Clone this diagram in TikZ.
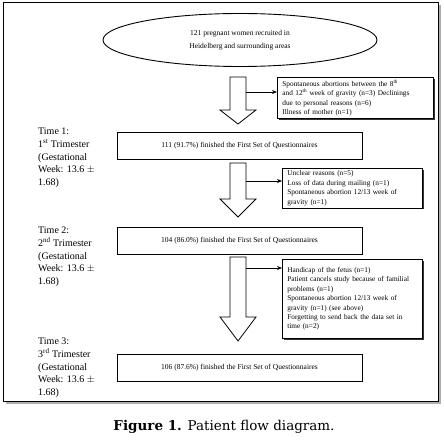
\documentclass[tikz,border=0pt]{standalone}
\usepackage{fontspec}
\setmainfont{Liberation Serif}
\newfontfamily\captionfont{DejaVu Serif}
\usetikzlibrary{positioning, shapes.geometric, arrows.meta, shadows}
\definecolor{flowshadow}{HTML}{7A7A7A}

\begin{document}
\begin{tikzpicture}[x=1pt, y=-1pt,
    mainbox/.style={draw, fill=white, line width=0.8pt, minimum width=245pt, minimum height=27pt,
      font=\fontsize{7.5}{9}\selectfont, drop shadow={shadow xshift=1.2pt, shadow yshift=-1.2pt, fill=black, opacity=0.8}},
    sidebox/.style={draw, fill=white, line width=0.8pt, anchor=north west, align=left, inner xsep=5pt, inner ysep=2.5pt,
      font=\fontsize{7.3}{9.4}\selectfont, drop shadow={shadow xshift=1.2pt, shadow yshift=-1.2pt, fill=black, opacity=0.8}},
    timelabel/.style={anchor=north west, align=left, inner sep=0pt, font=\fontsize{10}{12.6}\selectfont},
    bigarrow/.style={draw, fill=white, line width=0.8pt},
    sidearrow/.style={-{Stealth[length=5pt, width=4pt]}, line width=0.8pt}]
    \useasboundingbox (0,0) rectangle (444,443);
    \draw[line width=1pt, fill=white, drop shadow={shadow xshift=2.5pt, shadow yshift=-2.5pt, fill=flowshadow, opacity=0.6}]
      (3,3) rectangle (438,401);

    \node[draw, ellipse, line width=0.9pt, minimum width=274pt, minimum height=53pt, align=center,
      font=\fontsize{7.5}{12.5}\selectfont] (recruit) at (240,40)
      {121 pregnant women recruited in\\Heidelberg and surrounding areas};

    \node[timelabel] (time1) at (38,128) {Time 1:\\1\textsuperscript{st} Trimester\\(Gestational\\Week: 13.6 $\pm$\\1.68)};
    \node[timelabel] (time2) at (38,227) {Time 2:\\2\textsuperscript{nd} Trimester\\(Gestational\\Week: 13.6 $\pm$\\1.68)};
    \node[timelabel] (time3) at (38,338) {Time 3:\\3\textsuperscript{rd} Trimester\\(Gestational\\Week: 13.6 $\pm$\\1.68)};

    \node[mainbox] (set1) at (239.5,145.5) {111 (91.7\%) finished the First Set of Questionnaires};
    \node[mainbox] (set2) at (239.5,240.5) {104 (86.0\%) finished the First Set of Questionnaires};
    \node[mainbox] (set3) at (239.5,367.5) {106 (87.6\%) finished the First Set of Questionnaires};

    \node[sidebox, text width=146pt, minimum height=40pt] (drop1) at (277,77)
      {Spontaneous abortions between the 8\textsuperscript{th}\\and 12\textsuperscript{th} week of gravity (n=3) Declinings\\due to personal reasons (n=6)\\Illness of mother (n=1)};
    \node[sidebox, text width=130pt, minimum height=39pt] (drop2) at (282,168)
      {Unclear reasons (n=5)\\Loss of data during mailing (n=1)\\Spontaneous abortion 12/13 week of\\gravity (n=1)};
    \node[sidebox, text width=130pt, minimum height=79pt] (drop3) at (282,259)
      {Handicap of the fetus (n=1)\\Patient cancels study because of familial\\problems (n=1)\\Spontaneous abortion 12/13 week of\\gravity (n=1) (see above)\\Forgetting to send back the data set in\\time (n=2)};

    \draw[bigarrow] (230,77) -- (246,77) -- (246,110) -- (256,110) -- (238,124) -- (220,110) -- (230,110) -- cycle;
    \draw[bigarrow] (230,163) -- (246,163) -- (246,199) -- (256,199) -- (238,217) -- (220,199) -- (230,199) -- cycle;
    \draw[bigarrow] (230,257) -- (246,257) -- (246,317) -- (256,317) -- (238,341) -- (220,317) -- (230,317) -- cycle;
    \coordinate (out1) at (246,92);
    \coordinate (out2) at (246,181);
    \coordinate (out3) at (246,268);
    \draw[sidearrow] (out1) -- (out1 -| drop1.west);
    \draw[sidearrow] (out2) -- (out2 -| drop2.west);
    \draw[sidearrow] (out3) -- (out3 -| drop3.west);

    \node[font=\captionfont\fontsize{13.5}{16}\selectfont] (caption) at (224,427) {\textbf{Figure 1.} Patient flow diagram.};
\end{tikzpicture}
\end{document}
